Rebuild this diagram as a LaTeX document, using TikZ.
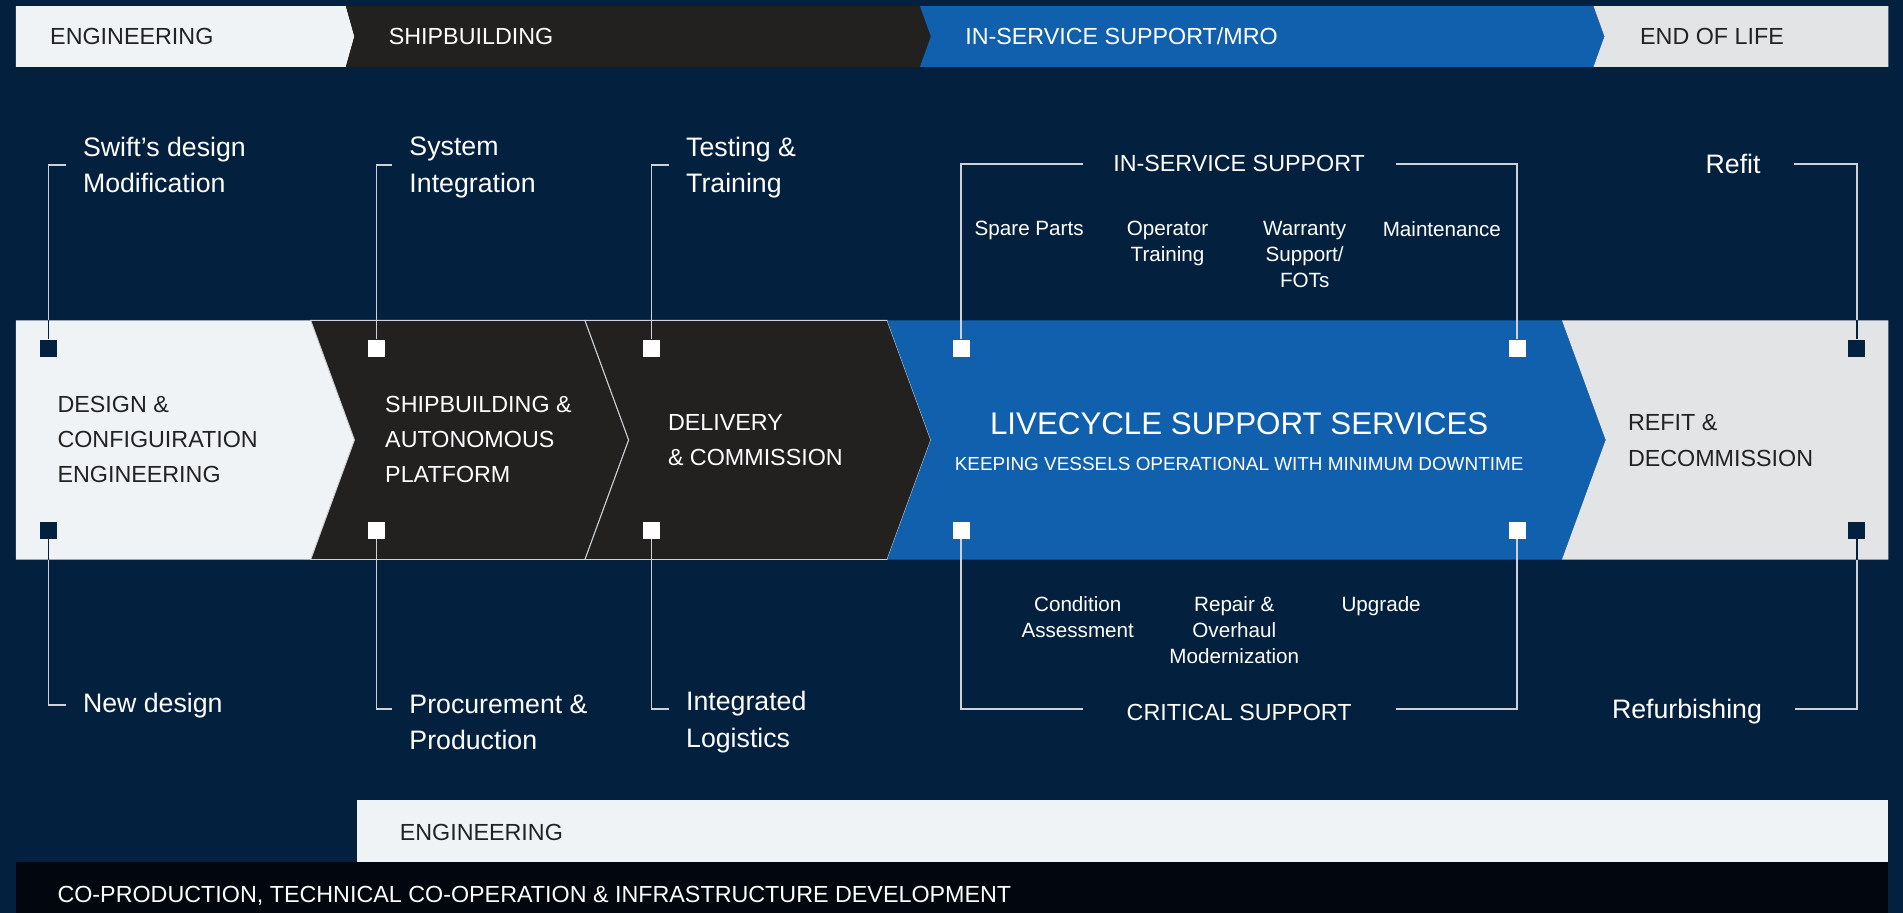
\documentclass[tikz,border=0pt]{standalone}
\usepackage{fontspec}
\setmainfont{Liberation Sans}
\usetikzlibrary{positioning}

\definecolor{navy}{RGB}{3,33,63}
\definecolor{shipblk}{RGB}{34,33,31}
\definecolor{mroblue}{RGB}{17,96,174}
\definecolor{engwhite}{RGB}{239,243,246}
\definecolor{eolgray}{RGB}{227,228,230}
\definecolor{coblack}{RGB}{1,6,15}
\definecolor{linegray}{RGB}{205,210,216}
\definecolor{inkdark}{RGB}{34,34,34}

\tikzset{
    sq/.style={fill=white, minimum size=7pt, inner sep=0pt},      % white marker square
    sqd/.style={sq, fill=navy},                                    % navy marker square
    caps/.style={font=\fontsize{9.6}{14.5}\selectfont, align=left, anchor=west, inner sep=0pt},
    side/.style={font=\fontsize{11}{15}\selectfont, align=left, anchor=west, text=white, inner xsep=7pt, inner ysep=0pt},
    item/.style={font=\fontsize{8.5}{10.7}\selectfont, align=center, text=white, anchor=north, inner sep=0pt},
    head/.style={font=\fontsize{9.6}{12}\selectfont, text=white, minimum width=128.5pt, inner sep=0pt},
    link/.style={draw=linegray, line width=0.6pt},
}

\begin{document}
\begin{tikzpicture}[x=0.5pt, y=-0.5pt]

% background
\fill[navy] (0,0) rectangle (1568,752);

% phase bar
\fill[engwhite] (13,5) -- (285,5) -- (292,30) -- (285,55) -- (13,55) -- cycle;
\fill[shipblk] (285,5) -- (758,5) -- (767,30) -- (758,55) -- (285,55) -- (292,30) -- cycle;
\fill[mroblue] (758,5) -- (1313,5) -- (1322,30) -- (1313,55) -- (758,55) -- (767,30) -- cycle;
\fill[eolgray] (1313,5) -- (1556,5) -- (1556,55) -- (1313,55) -- (1322,30) -- cycle;

\node[caps, text=inkdark] (pheng) at (41,30) {ENGINEERING};
\node[caps, text=white] (phship) at (320,30) {SHIPBUILDING};
\node[caps, text=white] (phmro) at (795,30) {IN-SERVICE SUPPORT/MRO};
\node[caps, text=inkdark] (pheol) at (1351,30) {END OF LIFE};

% main chevron band
\coordinate (bandtop) at (0,264);
\coordinate (bandbot) at (0,461);
\fill[engwhite] (13,264) -- (256,264) -- (292,362.5) -- (256,461) -- (13,461) -- cycle;
\filldraw[fill=shipblk, draw=linegray, line width=0.4pt] (256,264) -- (482,264) -- (518,362.5) -- (482,461) -- (256,461) -- (292,362.5) -- cycle;
\filldraw[fill=shipblk, draw=linegray, line width=0.4pt] (482,264) -- (731,264) -- (767,362.5) -- (731,461) -- (482,461) -- (518,362.5) -- cycle;
\fill[mroblue] (731,264) -- (1287,264) -- (1323,362.5) -- (1287,461) -- (731,461) -- (767,362.5) -- cycle;
\fill[eolgray] (1287,264) -- (1556,264) -- (1556,461) -- (1287,461) -- (1323,362.5) -- cycle;

\node[caps, text=inkdark] (design) at (47,362) {DESIGN \&\\CONFIGUIRATION\\ENGINEERING};
\node[caps, text=white] (shipplat) at (317,362) {SHIPBUILDING \&\\AUTONOMOUS\\PLATFORM};
\node[caps, text=white] (delivery) at (550,362.5) {DELIVERY\\\& COMMISSION};
\node[font=\fontsize{12.9}{15}\selectfont, text=white, inner sep=0pt] (lcs) at (1021,349) {LIVECYCLE SUPPORT SERVICES};
\node[font=\fontsize{7.8}{9}\selectfont, text=white, inner sep=0pt, below=9pt of lcs] (lcssub) {KEEPING VESSELS OPERATIONAL WITH MINIMUM DOWNTIME};
\node[caps, text=inkdark] (refitdec) at (1341,363) {REFIT \&\\DECOMMISSION};

% marker squares
\node[sqd] (dt) at (40,287) {};
\node[sqd] (db) at (40,437) {};
\node[sq] (st) at (310,287) {};
\node[sq] (sb) at (310,437) {};
\node[sq] (lt) at (537,287) {};
\node[sq] (lb) at (537,437) {};
\node[sq] (it) at (792,287) {};
\node[sq] (ib) at (792,437) {};
\node[sq] (jt) at (1250,287) {};
\node[sq] (jb) at (1250,437) {};
\node[sqd] (rt) at (1530,287) {};
\node[sqd] (rb) at (1530,437) {};

% side labels
\node[side] (swift) at (54,136) {Swift’s design\\Modification};
\node[side] (sysint) at (323,138) {System\\Integration};
\node[side] (testing) at (551,138) {Testing \&\\Training};
\node[side] (newdes) at (54,581) {New design};
\node[side] (procure) at (323,595) {Procurement \&\\Production};
\node[side] (logist) at (551,595) {Integrated\\Logistics};
\node[side, anchor=center, inner xsep=13.5pt] (refit) at (1428,135) {Refit};
\node[side, anchor=center, inner xsep=13.5pt] (refurb) at (1390,586) {Refurbishing};

% support groups
\node[head] (iss) at (1021,135) {IN-SERVICE SUPPORT};
\node[head] (crit) at (1021,587) {CRITICAL SUPPORT};

\node[item] (spare) at (848,182) {Spare Parts};
\node[item] (optrain) at (962,182) {Operator\\Training};
\node[item] (warranty) at (1075,182) {Warranty\\Support/\\FOTs};
\node[item] (maint) at (1188,182) {Maintenance};
\node[item] (condit) at (888,491) {Condition\\Assessment};
\node[item] (repair) at (1017,491) {Repair \&\\Overhaul\\Modernization};
\node[item] (upgrade) at (1138,491) {Upgrade};

% connectors
\draw[link] (dt.north) |- (swift.west);
\draw[link] (db.south) |- (newdes.west);
\draw[link] (st.north) |- ([yshift=1pt]sysint.west);
\draw[link] (sb.south) |- ([yshift=5.5pt]procure.west);
\draw[link] (lt.north) |- ([yshift=1pt]testing.west);
\draw[link] (lb.south) |- ([yshift=5.5pt]logist.west);
\draw[link] (it.north) |- (iss.west);
\draw[link] (jt.north) |- (iss.east);
\draw[link] (ib.south) |- ([yshift=1.5pt]crit.west);
\draw[link] (jb.south) |- ([yshift=1.5pt]crit.east);
\draw[link] (rt.north) |- (refit.east);
\draw[link] (rb.south) |- ([yshift=1pt]refurb.east);
\draw[link, draw=navy] (dt.north) -- (dt.north |- bandtop);
\draw[link, draw=navy] (db.south) -- (db.south |- bandbot);
\draw[link, draw=navy] (rt.north) -- (rt.north |- bandtop);
\draw[link, draw=navy] (rb.south) -- (rb.south |- bandbot);

% bottom bars
\fill[engwhite] (294,659) rectangle (1556,710);
\fill[coblack] (13,710) rectangle (1556,752);
\node[caps, text=inkdark] (btmeng) at (329,686) {ENGINEERING};
\node[caps, text=white] (coprod) at (47,738) {CO-PRODUCTION, TECHNICAL CO-OPERATION \& INFRASTRUCTURE DEVELOPMENT};

\end{tikzpicture}
\end{document}
